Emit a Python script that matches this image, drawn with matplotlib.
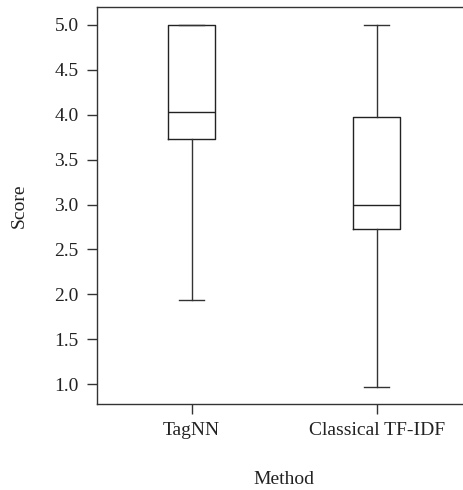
import matplotlib
matplotlib.use("Agg")
import matplotlib.pyplot as plt

# values
methods = ["TagNN", "Classical TF-IDF"]
whislo = [1.94, 0.97]
q1 = [3.73, 2.73]
med = [4.03, 3.0]
q3 = [5.0, 3.97]
whishi = [5.0, 5.0]

yticks = [1.0, 1.5, 2.0, 2.5, 3.0, 3.5, 4.0, 4.5, 5.0]

plt.rcParams['font.family'] = ['Liberation Serif', 'DejaVu Serif']

fig = plt.figure(figsize=(4.64, 4.90), dpi=100)
ax = fig.add_axes([0.2084, 0.1761, 0.8082, 0.8096])

stats = []
for i in range(len(methods)):
    stats.append({"label": methods[i], "whislo": whislo[i], "q1": q1[i],
                  "med": med[i], "q3": q3[i], "whishi": whishi[i], "fliers": []})

line_col = "#222222"
ax.bxp(stats, positions=[1, 2], widths=0.252, showfliers=False,
       boxprops=dict(color=line_col, linewidth=1.0),
       medianprops=dict(color=line_col, linewidth=1.0),
       whiskerprops=dict(color="#333333", linewidth=1.0),
       capprops=dict(color="#333333", linewidth=1.0),
       capwidths=0.137)

ax.set_xlim(0.486, 2.514)
ax.set_ylim(0.784, 5.197)
ax.set_yticks(yticks)
ax.set_yticklabels(["%.1f" % v for v in yticks])

for s in ax.spines.values():
    s.set_color("#333333")
    s.set_linewidth(1.0)
ax.spines["right"].set_visible(False)

ax.tick_params(axis="both", length=7, width=1.0, color="#333333",
               labelsize=14, labelcolor="#222222", pad=6)

ax.set_xlabel("Method", fontsize=14, color="#222222", labelpad=23)
ax.set_ylabel("Score", fontsize=14, color="#222222", labelpad=19)

fig.savefig("out.png", dpi=100)
